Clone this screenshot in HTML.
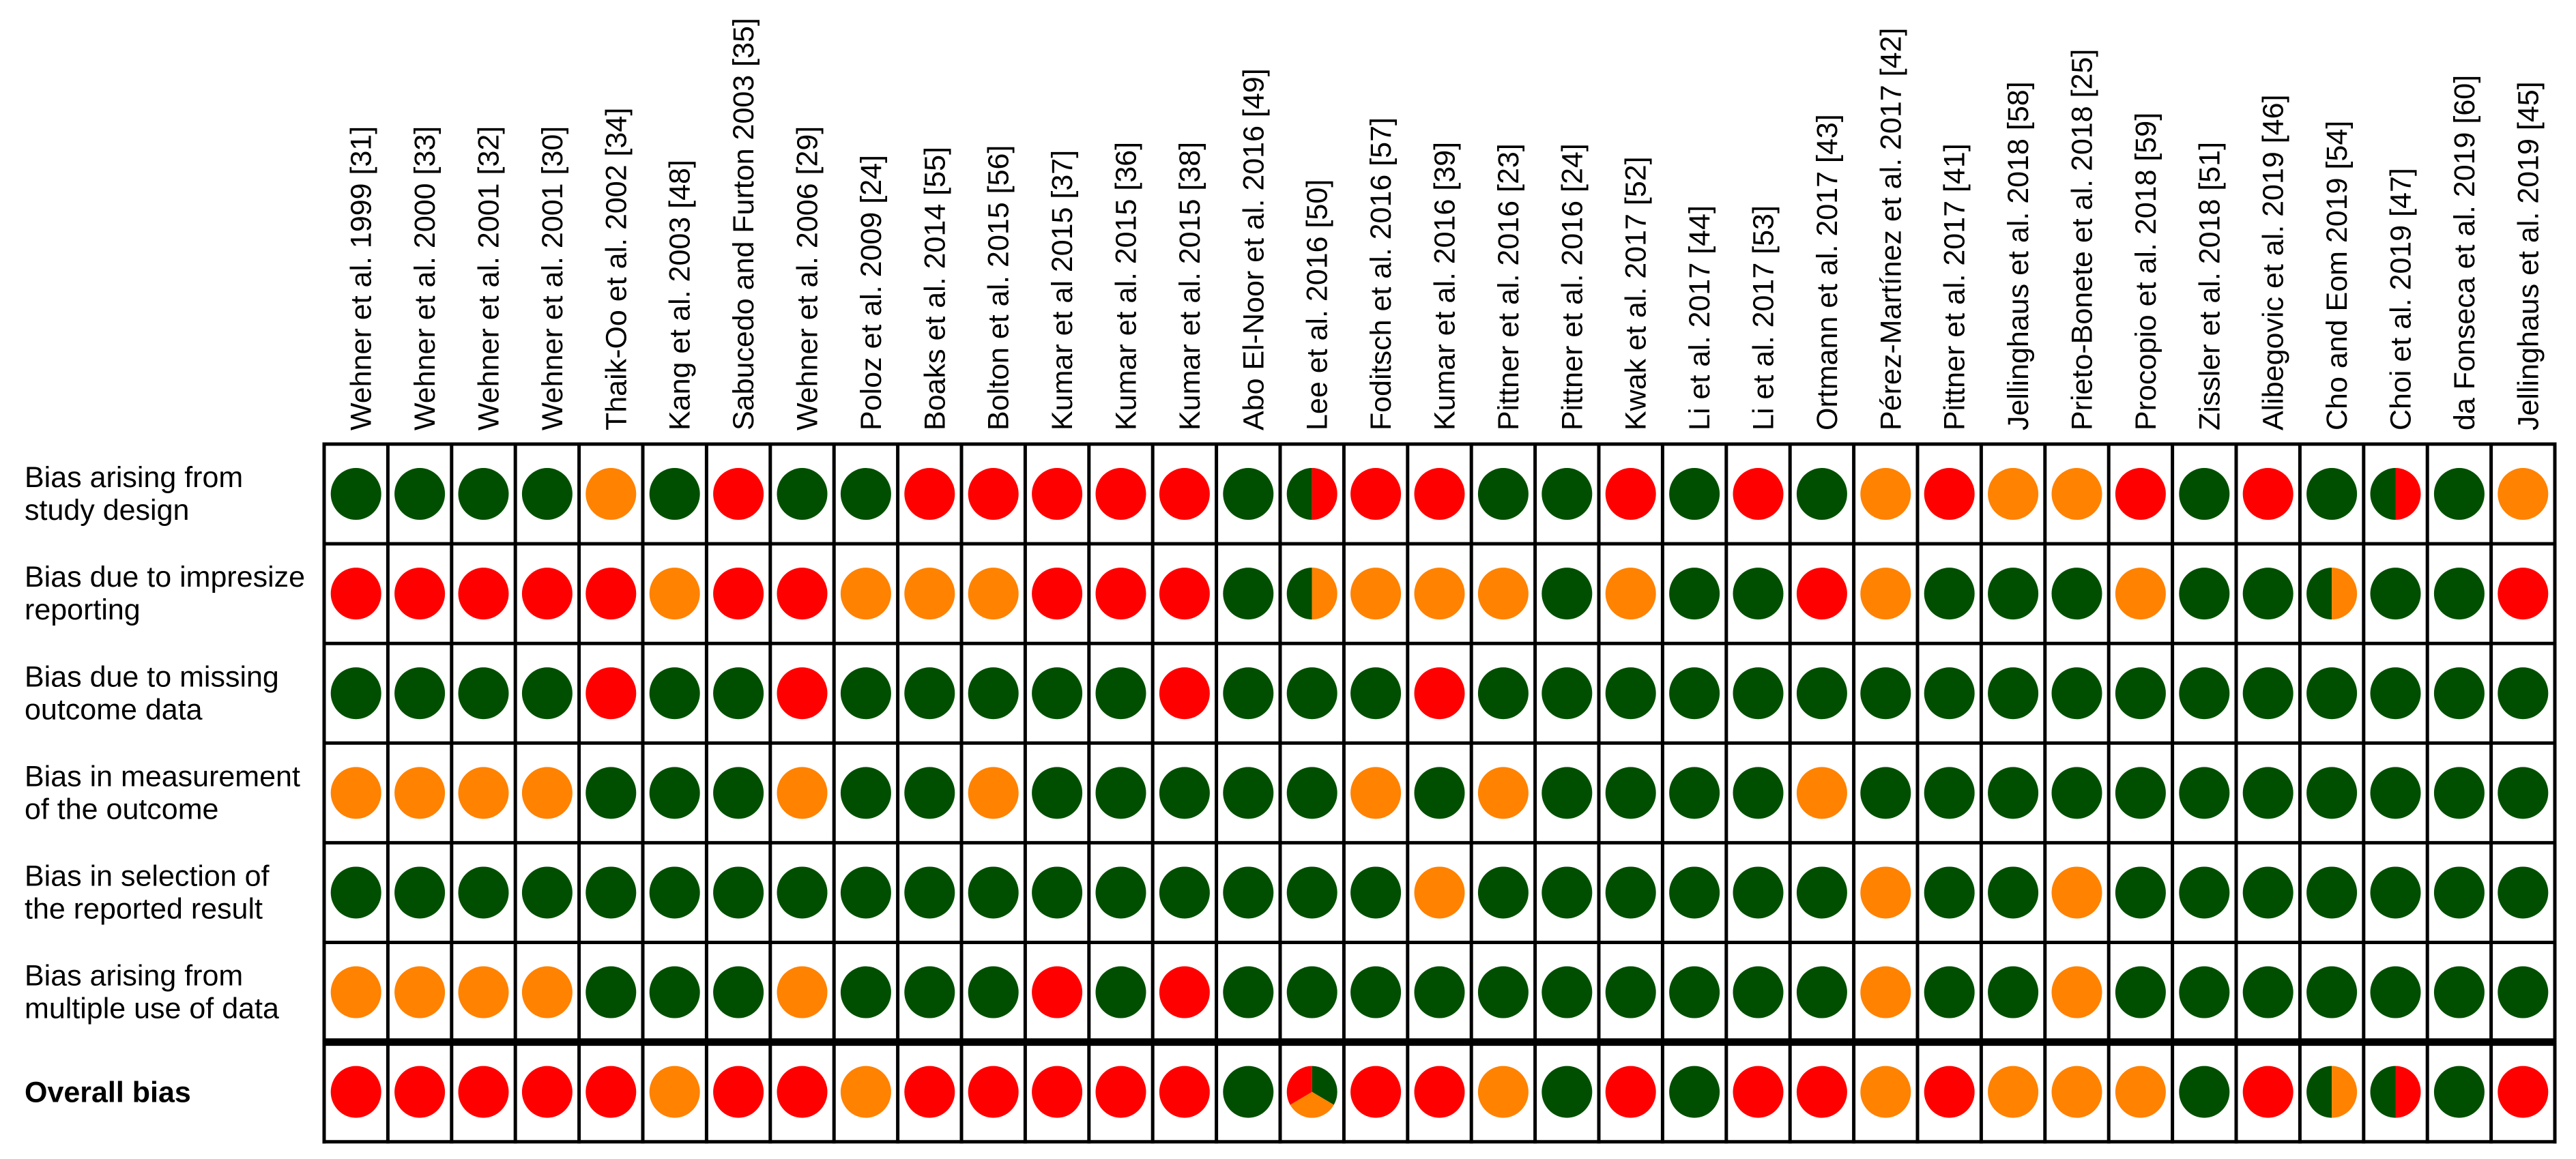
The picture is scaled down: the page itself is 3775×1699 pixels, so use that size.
<!DOCTYPE html>
<html><head><meta charset="utf-8"><style>
html,body{margin:0;padding:0;background:#fff;}
svg{display:block;}
text{font-family:"Liberation Sans",Arial,sans-serif;fill:#000;}
</style></head><body>
<svg id="chart" width="3775" height="1699" viewBox="0 0 3775 1699" xmlns="http://www.w3.org/2000/svg"></svg>
<script>
const studies = ["Wehner et al. 1999 [31]","Wehner et al. 2000 [33]","Wehner et al. 2001 [32]","Wehner et al. 2001 [30]","Thaik-Oo et al. 2002 [34]","Kang et al. 2003 [48]","Sabucedo and Furton 2003 [35]","Wehner et al. 2006 [29]","Poloz et al. 2009 [24]","Boaks et al. 2014 [55]","Bolton et al. 2015 [56]","Kumar et al 2015 [37]","Kumar et al. 2015 [36]","Kumar et al. 2015 [38]","Abo El-Noor et al. 2016 [49]","Lee et al. 2016 [50]","Foditsch et al. 2016 [57]","Kumar et al. 2016 [39]","Pittner et al. 2016 [23]","Pittner et al. 2016 [24]","Kwak et al. 2017 [52]","Li et al. 2017 [44]","Li et al. 2017 [53]","Ortmann et al. 2017 [43]","Pérez-Martínez et al. 2017 [42]","Pittner et al. 2017 [41]","Jellinghaus et al. 2018 [58]","Prieto-Bonete et al. 2018 [25]","Procopio et al. 2018 [59]","Zissler et al. 2018 [51]","Alibegovic et al. 2019 [46]","Cho and Eom 2019 [54]","Choi et al. 2019 [47]","da Fonseca et al. 2019 [60]","Jellinghaus et al. 2019 [45]"];
const domains = [["Bias arising from","study design"],["Bias due to impresize","reporting"],["Bias due to missing","outcome data"],["Bias in measurement","of the outcome"],["Bias in selection of","the reported result"],["Bias arising from","multiple use of data"],["Overall bias"]];
// G=low, O=some concerns, R=high; "GR"/"GO" half split; "GOR" three-part pie
const row1 = ["G","G","G","G","O","G","R","G","G","R","R","R","R","R","G","GR","R","R","G","G","R","G","R","G","O","R","O","O","R","G","R","G","GR","G","O"];
const row2 = ["R","R","R","R","R","O","R","R","O","O","O","R","R","R","G","GO","O","O","O","G","O","G","G","R","O","G","G","G","O","G","G","GO","G","G","R"];
const row3 = ["G","G","G","G","R","G","G","R","G","G","G","G","G","R","G","G","G","R","G","G","G","G","G","G","G","G","G","G","G","G","G","G","G","G","G"];
const row4 = ["O","O","O","O","G","G","G","O","G","G","O","G","G","G","G","G","O","G","O","G","G","G","G","O","G","G","G","G","G","G","G","G","G","G","G"];
const row5 = ["G","G","G","G","G","G","G","G","G","G","G","G","G","G","G","G","G","O","G","G","G","G","G","G","O","G","G","O","G","G","G","G","G","G","G"];
const row6 = ["O","O","O","O","G","G","G","O","G","G","G","R","G","R","G","G","G","G","G","G","G","G","G","G","O","G","G","O","G","G","G","G","G","G","G"];
const row7 = ["R","R","R","R","R","O","R","R","O","R","R","R","R","R","G","GOR","R","R","O","G","R","G","R","R","O","R","O","O","O","G","R","GO","GR","G","R"];
const judgements = [row1,row2,row3,row4,row5,row6,row7];

const COL = {G:"#004f00",O:"#ff8200",R:"#ff0000"};
const NS = "http://www.w3.org/2000/svg";
const svg = document.getElementById("chart");
const gx0 = 475, colW = 93.4, gy0 = 651, rowH = 146.1;
const xC = i => gx0 + colW*(i+0.5);
const yT = r => gy0 + rowH*r;
const yC = r => yT(r) + rowH/2;
function mk(tag, attrs, parent){const e=document.createElementNS(NS,tag);for(const k in attrs)e.setAttribute(k,attrs[k]);(parent||svg).appendChild(e);return e;}

// column labels
studies.forEach((s,i)=>{
  const t = mk("text",{x:0,y:0,"font-size":43,transform:`translate(${xC(i)+22},631) rotate(-90)`});
  
  
  t.textContent = s;
});
// row labels
domains.forEach((d,r)=>{
  const bold = d.length===1;
  const t = mk("text",{x:36,y:0,"font-size":43,"font-weight":bold?"bold":"normal"});
  
  
  if(bold){t.setAttribute("y",yC(r)+15);t.textContent=d[0];}
  else{
    const a=mk("tspan",{x:36,y:yC(r)-10},t);a.textContent=d[0];
    const b=mk("tspan",{x:36,y:yC(r)+38},t);b.textContent=d[1];
  }
});
// grid
const nC = studies.length, nR = domains.length;
const gx1 = gx0+colW*nC, gy1 = yT(nR);
for(let i=0;i<=nC;i++){
  const l=mk("line",{x1:gx0+colW*i,x2:gx0+colW*i,y1:gy0-2.5,y2:gy1+2.5,stroke:"#000","stroke-width":5});
  
  
}
for(let r=0;r<=nR;r++){
  const l=mk("line",{x1:gx0-2.5,x2:gx1+2.5,y1:yT(r),y2:yT(r),stroke:"#000","stroke-width":(r===nR-1)?11:5});
  
  
}
// marks
const RX=37, RY=38;
function arc(cx,cy,a0,a1,color){
  const p=a=>[cx+RX*Math.sin(a*Math.PI/180), cy-RY*Math.cos(a*Math.PI/180)];
  const [x0,y0]=p(a0),[x1,y1]=p(a1);
  const large=(a1-a0)>180?1:0;
  return mk("path",{d:`M${cx},${cy} L${x0},${y0} A${RX},${RY} 0 ${large} 1 ${x1},${y1} Z`,fill:color});
}
judgements.forEach((row,r)=>{
  row.forEach((v,i)=>{
    const cx=xC(i), cy=yC(r);
    if(v.length===1){
      const c=mk("ellipse",{cx,cy,rx:RX,ry:RY,fill:COL[v]});
      
      
    } else if(v.length===2){
      const a=arc(cx,cy,180,360,COL[v[0]]);
      
      
      const b=arc(cx,cy,0,180,COL[v[1]]);
      
      
    } else {
      const a=arc(cx,cy,0,120,COL[v[0]]);
      
      
      const b=arc(cx,cy,120,240,COL[v[1]]);
      
      
      const c=arc(cx,cy,240,360,COL[v[2]]);
      
      
    }
  });
});
</script>
</body></html>
